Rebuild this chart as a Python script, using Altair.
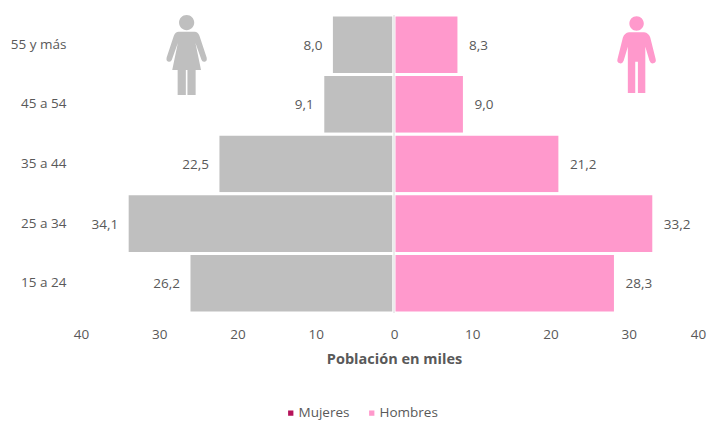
import altair as alt
import pandas as pd

ages = ["55 y más", "45 a 54", "35 a 44", "25 a 34", "15 a 24"]
mujeres = [8.0, 9.1, 22.5, 34.1, 26.2]
hombres = [8.3, 9.0, 21.2, 33.2, 28.3]
x_ticks = [-40, -30, -20, -10, 0, 10, 20, 30, 40]
groups = ["Mujeres", "Hombres"]
legend_colors = ["#B5135A", "#FF99CC"]
GRAY = "#BFBFBF"
PINK = "#FF99CC"
TXT = "#595959"
FONT = "Open Sans"

WOMAN = ("M0.19 -0.81A0.19 0.19 0 1 1 -0.19 -0.81A0.19 0.19 0 1 1 0.19 -0.81Z"
         "M-0.2 -0.58L0.2 -0.58Q0.28 -0.58 0.32 -0.48L0.5 0.06Q0.52 0.15 0.45 0.17Q0.39 0.18 0.37 0.12"
         "L0.22 -0.3L0.36 0.375L0.225 0.375L0.225 1L0.02 1L0.02 0.375L-0.02 0.375L-0.02 1L-0.225 1"
         "L-0.225 0.375L-0.36 0.375L-0.22 -0.3L-0.37 0.12Q-0.39 0.18 -0.45 0.17Q-0.52 0.15 -0.5 0.06"
         "L-0.32 -0.48Q-0.28 -0.58 -0.2 -0.58Z")
MAN = ("M0.19 -0.83A0.19 0.19 0 1 1 -0.19 -0.83A0.19 0.19 0 1 1 0.19 -0.83Z"
       "M-0.2 -0.6L0.2 -0.6Q0.32 -0.58 0.36 -0.46L0.5 0.1Q0.53 0.2 0.44 0.22Q0.37 0.23 0.34 0.15"
       "L0.23 -0.22L0.23 1L0.035 1L0.035 0.18L-0.035 0.18L-0.035 1L-0.23 1L-0.23 -0.22L-0.34 0.15"
       "Q-0.37 0.23 -0.44 0.22Q-0.53 0.2 -0.5 0.1L-0.36 -0.46Q-0.32 -0.58 -0.2 -0.6Z")


def fmt(v):
    return f"{v:.1f}".replace(".", ",")


df_m = pd.DataFrame({"age": ages, "v": [-v for v in mujeres], "t": [fmt(v) for v in mujeres]})
df_h = pd.DataFrame({"age": ages, "v": hombres, "t": [fmt(v) for v in hombres]})

x_scale = alt.Scale(domain=[-40, 40], nice=False, zero=False, padding=0)
y_scale = alt.Scale(domain=ages, paddingInner=0, paddingOuter=0)

x_axis = alt.X(
    "v:Q", scale=x_scale,
    axis=alt.Axis(values=x_ticks, labelExpr="abs(datum.value)", title="Población en miles",
                  grid=False, domain=False, ticks=False, labelPadding=14, labelFontSize=13.5,
                  labelFlush=False, labelOffset=alt.ExprRef("datum.value == 40 ? -9 : 0"),
                  labelColor=TXT, labelFont=FONT, titleFont=FONT, titleFontSize=14.5,
                  titleFontWeight="bold", titleColor=TXT, titlePadding=12),
)
y_axis = alt.Y(
    "age:N", scale=y_scale, sort=ages,
    axis=alt.Axis(title=None, domain=False, ticks=False, grid=False, labelPadding=15,
                  labelFontSize=13.5, labelColor=TXT, labelFont=FONT),
)

bars_m = alt.Chart(df_m).mark_bar(color=GRAY, stroke="white", strokeWidth=3).encode(x=x_axis, y=y_axis, x2=alt.datum(0))
bars_h = alt.Chart(df_h).mark_bar(color=PINK, stroke="white", strokeWidth=3).encode(x=x_axis, y=y_axis, x2=alt.datum(0))

zero = alt.Chart(pd.DataFrame({"v": [0]})).mark_rule(color="#D9D9D9", strokeWidth=1).encode(x=alt.X("v:Q", scale=x_scale))

txt_m = alt.Chart(df_m).mark_text(align="right", dx=-9, dy=1, font=FONT, fontSize=13.5, color=TXT).encode(
    x=alt.X("v:Q", scale=x_scale), y=alt.Y("age:N", scale=y_scale, sort=ages), text="t:N")
txt_h = alt.Chart(df_h).mark_text(align="left", dx=10, dy=1, font=FONT, fontSize=13.5, color=TXT).encode(
    x=alt.X("v:Q", scale=x_scale), y=alt.Y("age:N", scale=y_scale, sort=ages), text="t:N")

woman = alt.Chart(pd.DataFrame({"v": [-26.5]})).mark_point(
    shape=WOMAN, size=6400, filled=True, color=GRAY, opacity=1, strokeWidth=0
).encode(x=alt.X("v:Q", scale=x_scale), y=alt.value(40))
man = alt.Chart(pd.DataFrame({"v": [31.0]})).mark_point(
    shape=MAN, size=5776, filled=True, color=PINK, opacity=1, strokeWidth=0
).encode(x=alt.X("v:Q", scale=x_scale), y=alt.value(40))

legend_layer = alt.Chart(pd.DataFrame({"g": groups, "v": [0, 0]})).mark_square(size=0).encode(
    x=alt.X("v:Q", scale=x_scale),
    y=alt.value(0),
    color=alt.Color(
        "g:N", scale=alt.Scale(domain=groups, range=legend_colors),
        legend=alt.Legend(title=None, orient="none", direction="horizontal", legendX=203, legendY=391,
                          symbolType="square", symbolSize=28, symbolOpacity=1, labelFont=FONT,
                          labelFontSize=13.5, labelColor=TXT, columnPadding=15, labelOffset=1,
                          symbolStrokeWidth=0),
    ),
)

chart = (
    alt.layer(bars_m, bars_h, zero, txt_m, txt_h, woman, man, legend_layer)
    .properties(
        width=626, height=298,
        padding={"left": 73, "top": 7, "right": 0, "bottom": 108},
        autosize=alt.AutoSizeParams(type="none"),
        background="white",
    )
    .configure_view(strokeWidth=0)
)

chart.save("out.html", embed_options={"renderer": "svg", "actions": False})
